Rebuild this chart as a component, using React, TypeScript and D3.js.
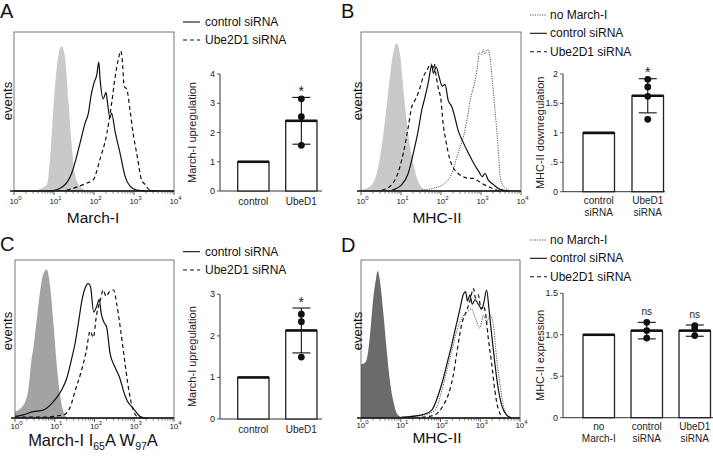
import React from "react";
import * as d3 from "d3";

const FONT = "Liberation Sans, Arial, Helvetica, sans-serif";

// ---------- Histogram data: [log10 fluorescence, % of max events] ----------
const aGray = [[0.48,0],[0.82,4],[0.9,20],[0.98,51],[1.07,78],[1.19,91],[1.27,85],[1.36,57],[1.44,30],[1.52,11],[1.65,3],[1.82,0]];
const aControl = [[0,0],[0.9,0],[1.23,3],[1.44,11],[1.65,30],[1.78,43],[1.86,49],[1.92,59],[2.0,68],[2.07,73],[2.12,81],[2.15,71],[2.23,58],[2.3,62],[2.33,57],[2.4,46],[2.44,49],[2.53,37],[2.65,24],[2.78,9],[2.9,3],[3.07,0.5],[3.32,0],[4,0]];
const aUbe = [[1.32,0.5],[1.82,5],[1.98,7],[2.15,20],[2.32,36],[2.44,55],[2.53,72],[2.61,83],[2.67,88],[2.72,78],[2.75,66],[2.82,64],[2.9,51],[2.98,36],[3.08,22],[3.19,7],[3.28,4],[3.4,0.5],[3.6,0]];

const bGray = [[0,0.5],[0.27,4],[0.43,15],[0.56,36],[0.68,62],[0.78,83],[0.89,93],[0.98,85],[1.06,64],[1.18,36],[1.31,17],[1.43,6],[1.6,1],[1.77,0]];
const bNoMarch = [[1.52,0.5],[1.85,2],[2.05,4],[2.18,7],[2.3,13],[2.38,20],[2.48,28],[2.58,36],[2.65,45],[2.73,57],[2.82,66],[2.87,72],[2.92,80],[2.95,87],[3.02,86],[3.06,89],[3.1,86],[3.17,89],[3.22,85],[3.28,70],[3.35,51],[3.42,30],[3.48,9],[3.56,3],[3.7,0.5]];
const bControl = [[0.77,0.5],[1.02,4],[1.18,11],[1.31,24],[1.43,38],[1.52,51],[1.6,59],[1.68,68],[1.77,79],[1.81,74],[1.88,78],[1.95,72],[2.03,66],[2.1,67],[2.18,57],[2.27,53],[2.33,48],[2.43,38],[2.53,32],[2.68,24],[2.85,16],[2.95,12],[3.03,9],[3.1,11],[3.18,7],[3.31,4],[3.48,1],[3.7,0]];
const bUbe = [[0.52,0.5],[0.77,4],[0.89,9],[1.06,24],[1.18,40],[1.27,53],[1.35,57],[1.45,63],[1.56,72],[1.65,76],[1.75,80],[1.78,76],[1.83,80],[1.88,72],[1.93,65],[2.0,57],[2.05,43],[2.12,32],[2.22,20],[2.3,15],[2.43,11],[2.55,9],[2.68,8],[2.8,8],[2.95,6],[3.08,4],[3.25,2],[3.45,0]];

const cGray = [[0,4],[0.21,8],[0.34,19],[0.42,38],[0.46,44],[0.55,63],[0.63,80],[0.71,91],[0.8,94],[0.88,84],[0.97,59],[1.05,34],[1.13,15],[1.22,4],[1.3,0.5],[1.4,0]];
const cControl = [[0,1],[0.21,2],[0.46,4],[0.71,5],[0.88,8],[1.05,13],[1.18,18],[1.3,25],[1.43,38],[1.51,47],[1.6,61],[1.68,74],[1.76,82],[1.85,85],[1.9,83],[1.98,67],[2.06,71],[2.12,75],[2.17,66],[2.23,61],[2.31,57],[2.39,41],[2.52,32],[2.64,25],[2.73,17],[2.82,11],[2.98,6],[3.15,1],[3.32,0]];
const cUbe = [[0,0.5],[0.63,0.5],[1.22,2],[1.39,7],[1.51,17],[1.66,29],[1.79,42],[1.89,55],[1.97,51],[2.05,65],[2.14,74],[2.22,81],[2.29,77],[2.38,80],[2.48,81],[2.56,72],[2.65,57],[2.75,38],[2.83,23],[2.94,8],[3.07,1],[3.24,0]];

const dGray = [[0,34],[0.1,35],[0.18,42],[0.25,59],[0.31,76],[0.37,87],[0.42,93],[0.48,86],[0.56,67],[0.65,42],[0.73,23],[0.81,11],[0.9,3],[1.02,0.5],[1.15,0]];
const dNoMarch = [[1.11,0.5],[1.61,2],[1.86,5],[2.03,17],[2.15,29],[2.28,42],[2.41,55],[2.53,63],[2.66,67],[2.78,69],[2.88,63],[2.99,57],[3.08,65],[3.16,61],[3.25,65],[3.33,59],[3.41,38],[3.5,21],[3.58,8],[3.71,1],[3.87,0]];
const dControl = [[1.02,0.5],[1.53,2],[1.78,5],[1.95,15],[2.07,25],[2.2,38],[2.28,46],[2.36,55],[2.49,69],[2.57,78],[2.63,80],[2.68,74],[2.74,78],[2.8,72],[2.87,75],[2.95,72],[3.04,69],[3.09,73],[3.16,81],[3.22,69],[3.29,52],[3.37,34],[3.45,19],[3.54,8],[3.66,2],[3.79,0]];
const dUbe = [[1.53,0.5],[1.86,2],[2.07,8],[2.2,15],[2.32,27],[2.41,41],[2.53,59],[2.66,68],[2.74,74],[2.83,82],[2.88,76],[2.95,78],[3.02,69],[3.08,71],[3.14,65],[3.2,51],[3.29,34],[3.37,17],[3.45,6],[3.58,0]];

const decades = [0, 1, 2, 3, 4];

// ---------- Bar chart data ----------
const catsA = [["control"], ["UbeD1"]];
const meansA = [1, 2.4];
const errA = [0, 0.8];
const ptsA = [[], [3.15, 2.54, 1.56]];
const sigA = ["", "*"];
const ticksA = [0, 1, 2, 3, 4];
const tickLabelsA = ["0", "1", "2", "3", "4"];

const catsB = [["control", "siRNA"], ["UbeD1", "siRNA"]];
const meansB = [1, 1.63];
const errB = [0, 0.29];
const ptsB = [[], [1.91, 1.78, 1.62, 1.23]];
const sigB = ["", "*"];
const ticksB = [0, 0.5, 1, 1.5, 2];
const tickLabelsB = ["0", ".5", "1", "1.5", "2"];

const catsC = [["control"], ["UbeD1"]];
const meansC = [1, 2.13];
const errC = [0, 0.54];
const ptsC = [[], [2.52, 2.34, 1.49]];
const sigC = ["", "*"];
const ticksC = [0, 1, 2, 3];
const tickLabelsC = ["0", "1", "2", "3"];

const catsD = [["no", "March-I"], ["control", "siRNA"], ["UbeD1", "siRNA"]];
const meansD = [1, 1.05, 1.05];
const errD = [0, 0.1, 0.068];
const ptsD = [[], [1.15, 1.05, 0.96], [1.11, 1.07, 0.99]];
const sigD = ["", "ns", "ns"];
const ticksD = [0, 0.5, 1, 1.5];
const tickLabelsD = ["0", ".5", "1.0", "1.5"];

type Curve = { data: number[][]; dash?: string; color?: string; width?: number };

function Hist(p: {
  left: number; right: number; top: number; bottom: number;
  gray: number[][]; grayColor: string; curves: Curve[]; tickGap: number;
  title: React.ReactNode; titleX: number; titleY: number; titleSize: number; eventsX: number; eventsY: number;
}) {
  const x = d3.scaleLinear().domain([0, 4]).range([p.left, p.right]);
  const y = d3.scaleLinear().domain([0, 100]).range([p.bottom, p.top]);
  const area = d3.area<number[]>().x(d => x(d[0])).y0(p.bottom).y1(d => y(d[1])).curve(d3.curveMonotoneX);
  const line = d3.line<number[]>().x(d => x(d[0])).y(d => y(d[1])).curve(d3.curveMonotoneX);
  const minor: number[] = [];
  for (let k = 0; k < 4; k++) for (let m = 2; m <= 9; m++) minor.push(k + Math.log10(m));
  return (
    <g>
      <path d={area(p.gray) || ""} fill={p.grayColor} />
      {p.curves.map((c, i) => (
        <path key={i} d={line(c.data) || ""} fill="none" stroke={c.color || "#111"}
          strokeWidth={c.width || 1.2} strokeDasharray={c.dash} />
      ))}
      <rect x={p.left} y={p.top} width={p.right - p.left} height={p.bottom - p.top} fill="none" stroke="#555" strokeWidth={0.8} />
      <line x1={p.left - 4} x2={p.right} y1={p.bottom} y2={p.bottom} stroke="#111" strokeWidth={1.3} />
      {minor.map((v, i) => (
        <line key={i} x1={x(v)} x2={x(v)} y1={p.bottom} y2={p.bottom + 2.5} stroke="#333" strokeWidth={0.7} />
      ))}
      {decades.map(k => (
        <g key={k}>
          <line x1={x(k)} x2={x(k)} y1={p.bottom} y2={p.bottom + 4} stroke="#333" strokeWidth={0.8} />
          <text x={x(k) + 1.5} y={p.bottom + p.tickGap} textAnchor="middle" fontSize={8} fill="#222">
            10<tspan dy={-4} fontSize={6}>{k}</tspan>
          </text>
        </g>
      ))}
      <text x={p.titleX} y={p.titleY} textAnchor="middle" fontSize={p.titleSize} fill="#111">{p.title}</text>
      <text transform={`translate(${p.eventsX},${p.eventsY}) rotate(-90)`} textAnchor="middle"
        dominantBaseline="central" fontSize={13} fill="#111">events</text>
    </g>
  );
}

function Bars(p: {
  axisX: number; axisEnd: number; y0: number; yTop: number; maxVal: number;
  ticks: number[]; tickLabels: string[]; r0: number; r1: number; pad: number;
  cats: string[][]; means: number[]; errs: number[]; pts: number[][]; sig: string[];
  ylabel: string; ylabelX: number; labelY: number;
}) {
  const y = d3.scaleLinear().domain([0, p.maxVal]).range([p.y0, p.yTop]);
  const keys = p.cats.map(c => c.join(" "));
  const x = d3.scaleBand().domain(keys).range([p.r0, p.r1]).paddingInner(p.pad).paddingOuter(p.pad);
  const bw = x.bandwidth();
  return (
    <g fontFamily={FONT}>
      <line x1={p.axisX} x2={p.axisX} y1={p.y0} y2={p.yTop} stroke="#333" strokeWidth={1} />
      <line x1={p.axisX} x2={p.axisEnd} y1={p.y0} y2={p.y0} stroke="#333" strokeWidth={1} />
      {p.ticks.map((t, i) => (
        <g key={i}>
          <line x1={p.axisX - 3} x2={p.axisX} y1={y(t)} y2={y(t)} stroke="#333" strokeWidth={0.8} />
          <text x={p.axisX - 5} y={y(t)} textAnchor="end" dominantBaseline="central" fontSize={9} fill="#222">{p.tickLabels[i]}</text>
        </g>
      ))}
      <text transform={`translate(${p.ylabelX},${(p.y0 + p.yTop) / 2}) rotate(-90)`} textAnchor="middle"
        dominantBaseline="central" fontSize={11} fill="#222">{p.ylabel}</text>
      {keys.map((k, i) => {
        const bx = x(k) as number;
        const cx = bx + bw / 2;
        const m = p.means[i];
        const e = p.errs[i];
        const errTop = y(m + e);
        return (
          <g key={k}>
            <rect x={bx} y={y(m)} width={bw} height={p.y0 - y(m)} fill="white" stroke="#222" strokeWidth={1.3} />
            <line x1={bx} x2={bx + bw} y1={y(m)} y2={y(m)} stroke="#111" strokeWidth={2.6} />
            {e > 0 && (
              <g stroke="#111" strokeWidth={1.1}>
                <line x1={cx} x2={cx} y1={y(m + e)} y2={y(m - e)} />
                <line x1={cx - 9} x2={cx + 9} y1={y(m + e)} y2={y(m + e)} />
                <line x1={cx - 9} x2={cx + 9} y1={y(m - e)} y2={y(m - e)} />
              </g>
            )}
            {p.pts[i].map((v, j) => (
              <circle key={j} cx={cx} cy={y(v)} r={3.4} fill="#111" />
            ))}
            {p.sig[i] === "*" && (
              <text x={cx} y={errTop - 1.5} textAnchor="middle" fontSize={14} fill="#222">*</text>
            )}
            {p.sig[i] === "ns" && (
              <text x={cx} y={errTop - 7} textAnchor="middle" fontSize={10} fill="#222">ns</text>
            )}
            {p.cats[i].map((s, j) => (
              <text key={j} x={cx} y={p.labelY + j * 12} textAnchor="middle" fontSize={10} fill="#222">{s}</text>
            ))}
          </g>
        );
      })}
    </g>
  );
}

function Legend(p: { x1: number; x2: number; tx: number; ys: number[]; items: { label: string; dash?: string; color?: string; width?: number }[] }) {
  return (
    <g>
      {p.items.map((it, i) => (
        <g key={i}>
          <line x1={p.x1} x2={p.x2} y1={p.ys[i]} y2={p.ys[i]} stroke={it.color || "#111"} strokeWidth={it.width || 1.1} strokeDasharray={it.dash} />
          <text x={p.tx} y={p.ys[i]} dominantBaseline="central" fontSize={12} fill="#111">{it.label}</text>
        </g>
      ))}
    </g>
  );
}

const DASH = "4,3";
const DOT = "1.2,1.2";

export default function App() {
  return (
    <svg width={713} height={459} style={{ position: "absolute", left: 0, top: 0, background: "white" }} fontFamily={FONT}>
      <rect width={713} height={459} fill="white" />
      {/* Panel letters */}
      <text x={0} y={18} fontSize={20} fill="#111">A</text>
      <text x={341} y={18} fontSize={20} fill="#111">B</text>
      <text x={0} y={251} fontSize={20} fill="#111">C</text>
      <text x={341} y={252} fontSize={20} fill="#111">D</text>

      {/* Panel A */}
      <Hist left={14} right={174} top={32} bottom={191} gray={aGray} grayColor="#c9c9c9" tickGap={13}
        curves={[{ data: aControl }, { data: aUbe, dash: DASH }]}
        title="March-I" titleX={93} titleY={223} titleSize={15.5} eventsX={7} eventsY={101} />
      <Legend x1={183} x2={200} tx={205} ys={[22, 40]}
        items={[{ label: "control siRNA" }, { label: "Ube2D1 siRNA", dash: DASH }]} />
      <Bars axisX={220} axisEnd={322} y0={191} yTop={74} maxVal={4} ticks={ticksA} tickLabels={tickLabelsA}
        r0={221} r1={333.7} pad={0.348} cats={catsA} means={meansA} errs={errA} pts={ptsA} sig={sigA}
        ylabel="March-I upregulation" ylabelX={192} labelY={205} />

      {/* Panel B */}
      <Hist left={361} right={521} top={32} bottom={191} gray={bGray} grayColor="#c9c9c9" tickGap={13}
        curves={[{ data: bNoMarch, dash: DOT, color: "#555", width: 1 }, { data: bControl }, { data: bUbe, dash: DASH }]}
        title="MHC-II" titleX={437} titleY={223} titleSize={15.5} eventsX={357} eventsY={101} />
      <Legend x1={530} x2={547} tx={550} ys={[15, 33.3, 51.7]}
        items={[{ label: "no March-I", dash: DOT, color: "#555", width: 1 }, { label: "control siRNA" }, { label: "Ube2D1 siRNA", dash: DASH }]} />
      <Bars axisX={563} axisEnd={665} y0={191.7} yTop={74} maxVal={2} ticks={ticksB} tickLabels={tickLabelsB}
        r0={565.5} r1={681} pad={0.357} cats={catsB} means={meansB} errs={errB} pts={ptsB} sig={sigB}
        ylabel="MHC-II downregulation" ylabelX={540} labelY={204} />

      {/* Panel C */}
      <Hist left={15} right={174} top={260} bottom={418} gray={cGray} grayColor="#a3a3a3" tickGap={10.5}
        curves={[{ data: cControl }, { data: cUbe, dash: DASH }]}
        title={<>March-I I<tspan fontSize={10.5} dy={4}>65</tspan><tspan dy={-4}>A W</tspan><tspan fontSize={10.5} dy={4}>97</tspan><tspan dy={-4}>A</tspan></>}
        titleX={93} titleY={446} titleSize={16.5} eventsX={7} eventsY={331} />
      <Legend x1={183} x2={200} tx={205} ys={[251.7, 270]}
        items={[{ label: "control siRNA" }, { label: "Ube2D1 siRNA", dash: DASH }]} />
      <Bars axisX={220} axisEnd={322} y0={419} yTop={294.3} maxVal={3} ticks={ticksC} tickLabels={tickLabelsC}
        r0={221} r1={333.7} pad={0.348} cats={catsC} means={meansC} errs={errC} pts={ptsC} sig={sigC}
        ylabel="March-I upregulation" ylabelX={192} labelY={433} />

      {/* Panel D */}
      <Hist left={361} right={520} top={260} bottom={418} gray={dGray} grayColor="#6b6b6b" tickGap={10}
        curves={[{ data: dNoMarch, dash: DOT, color: "#555", width: 1 }, { data: dControl }, { data: dUbe, dash: DASH }]}
        title="MHC-II" titleX={437} titleY={443} titleSize={15.5} eventsX={357} eventsY={331} />
      <Legend x1={530} x2={547} tx={550} ys={[240, 258.3, 276.7]}
        items={[{ label: "no March-I", dash: DOT, color: "#555", width: 1 }, { label: "control siRNA" }, { label: "Ube2D1 siRNA", dash: DASH }]} />
      <Bars axisX={563} axisEnd={713} y0={417.7} yTop={293.3} maxVal={1.5} ticks={ticksD} tickLabels={tickLabelsD}
        r0={566.5} r1={727} pad={0.344} cats={catsD} means={meansD} errs={errD} pts={ptsD} sig={sigD}
        ylabel="MHC-II expression" ylabelX={540} labelY={430} />
    </svg>
  );
}
